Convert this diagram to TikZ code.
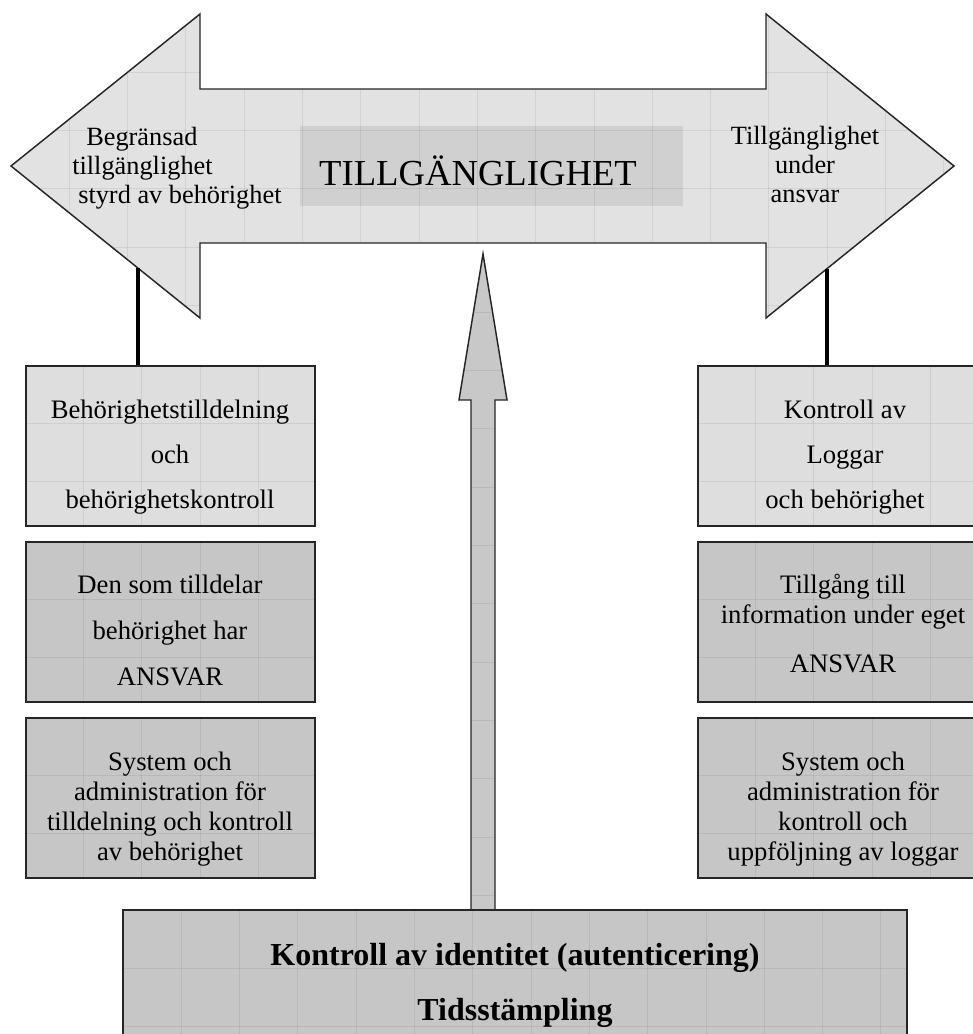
\documentclass[tikz,border=0pt]{standalone}
\usepackage{fontspec}
\setmainfont{Liberation Serif}
\definecolor{arrowfill}{HTML}{E2E2E2}
\definecolor{titlefill}{HTML}{D0D0D0}
\definecolor{lightbox}{HTML}{DEDEDE}
\definecolor{darkbox}{HTML}{C6C6C6}
\definecolor{midarrow}{HTML}{C8C8C8}
\newcommand\shadegrid[4]{%
  \foreach \k in {1,...,20}{%
    \draw[gridline] ({#1+\k*58.3},#2) -- ({#1+\k*58.3},#4);
    \draw[gridline] (#1,{#2+\k*58.3}) -- (#3,{#2+\k*58.3});
  }}
\begin{document}
\begin{tikzpicture}[x=0.75pt,y=-0.75pt,
  outline/.style={draw=black!85, line width=1.1pt},
  gridline/.style={draw=black, opacity=0.07, line width=0.75pt},
  conn/.style={draw=black, line width=3pt},
  boxa/.style={outline, fill=lightbox, minimum width=216.75pt, minimum height=120pt, inner sep=0pt},
  boxb/.style={outline, fill=darkbox, minimum width=216.75pt, minimum height=120pt, inner sep=0pt},
  rboxa/.style={boxa, minimum width=220.5pt},
  rboxb/.style={boxb, minimum width=220.5pt},
  sidetext/.style={font=\fontsize{19.75pt}{22pt}\selectfont, inner sep=0pt},
  boxtext/.style={align=center, inner sep=0pt, anchor=base},
  wide/.style={font=\fontsize{20pt}{33.75pt}\selectfont},
  tight/.style={font=\fontsize{20pt}{22.5pt}\selectfont}]
\clip (0,0) rectangle (973,1034);
\fill[white] (0,0) rectangle (973,1034);

% big double arrow
\fill[arrowfill] (11,166) -- (200,14) -- (200,89) -- (766,89) -- (766,14) -- (954,166)
  -- (766,318) -- (766,243) -- (200,243) -- (200,318) -- cycle;
\node[fill=titlefill, minimum width=287.25pt, minimum height=60pt, inner sep=0pt] (title) at (491.5,166) {};
\begin{scope}
  \clip (11,166) -- (200,14) -- (200,89) -- (766,89) -- (766,14) -- (954,166)
  -- (766,318) -- (766,243) -- (200,243) -- (200,318) -- cycle;
  \shadegrid{11}{14}{954}{318}
\end{scope}
\draw[outline] (11,166) -- (200,14) -- (200,89) -- (766,89) -- (766,14) -- (954,166)
  -- (766,318) -- (766,243) -- (200,243) -- (200,318) -- cycle;
\node[font=\fontsize{27.5pt}{30pt}\selectfont, inner sep=0pt, anchor=base] (titletext) at (478,186) {TILLGÄNGLIGHET};
\node[sidetext, align=left, anchor=base west] (lefttext) at (72,204)
  {\hspace*{10.5pt}Begränsad\\tillgänglighet\\\hspace*{4.5pt}styrd av behörighet};
\node[sidetext, align=center, anchor=base] (righttext) at (805,203)
  {Tillgänglighet\\under\\ansvar};

% left boxes
\node[boxa] (lb1) at (170.5,446) {};
\node[boxb] (lb2) at (170.5,622) {};
\node[boxb] (lb3) at (170.5,798) {};
% right boxes
\node[rboxa] (rb1) at (845,446) {};
\node[rboxb] (rb2) at (845,622) {};
\node[rboxb] (rb3) at (845,798) {};
\foreach \b in {lb1,lb2,lb3,rb1,rb2,rb3}{
  \begin{scope}
    \clip (\b.north west) rectangle (\b.south east);
    \path (\b.north west) coordinate (nw) (\b.south east) coordinate (se);
    \foreach \k in {1,...,6}{
      \draw[gridline] ([xshift=\k*43.725pt]nw) -- ([xshift=\k*43.725pt]nw |- se);
      \draw[gridline] ([yshift=-\k*43.725pt]nw) -- ([yshift=-\k*43.725pt]nw -| se);
    }
  \end{scope}
}

% connectors
\coordinate (al) at (138,268);
\coordinate (ar) at (827,269);
\draw[conn] (al) -- (al |- lb1.north);
\draw[conn] (ar) -- (ar |- rb1.north);

% box texts (anchor = baseline of the last line)
\node[boxtext, wide] (lt1) at (170,508) {Behörighetstilldelning\\och\\behörighetskontroll};
\node[boxtext, font=\fontsize{20pt}{34.5pt}\selectfont] (lt2) at (170,685) {Den som tilldelar\\behörighet har\\ANSVAR};
\node[boxtext, tight] (lt3) at (170,860) {System och\\administration för\\tilldelning och kontroll\\av behörighet};
\node[boxtext, wide] (rt1) at (845,508) {Kontroll av\\Loggar\\och behörighet};
\node[boxtext, tight] (rt2) at (843,672) {Tillgång till\\information under eget\\[14pt]ANSVAR};
\node[boxtext, tight] (rt3) at (843,860) {System och\\administration för\\kontroll och\\uppföljning av loggar};

% central arrow
\fill[midarrow] (483,254) -- (507,400) -- (495,400) -- (495,912) -- (471,912) -- (471,400) -- (459,400) -- cycle;
\begin{scope}
  \clip (483,254) -- (507,400) -- (495,400) -- (495,912) -- (471,912) -- (471,400) -- (459,400) -- cycle;
  \foreach \k in {1,...,11}{\draw[gridline] (459,{254+\k*58.3}) -- (507,{254+\k*58.3});}
\end{scope}
\draw[outline] (483,254) -- (507,400) -- (495,400) -- (495,912) -- (471,912) -- (471,400) -- (459,400) -- cycle;

% bottom box
\node[outline, fill=darkbox, minimum width=588pt, minimum height=165pt, inner sep=0pt] (bottom) at (515,1020) {};
\begin{scope}
  \clip (bottom.north west) rectangle (bottom.south east);
  \shadegrid{123}{910}{907}{1130}
\end{scope}
\node[boxtext, font=\bfseries\fontsize{24pt}{41pt}\selectfont] (bt) at (515,1020)
  {Kontroll av identitet (autenticering)\\Tidsstämpling};
\end{tikzpicture}
\end{document}
